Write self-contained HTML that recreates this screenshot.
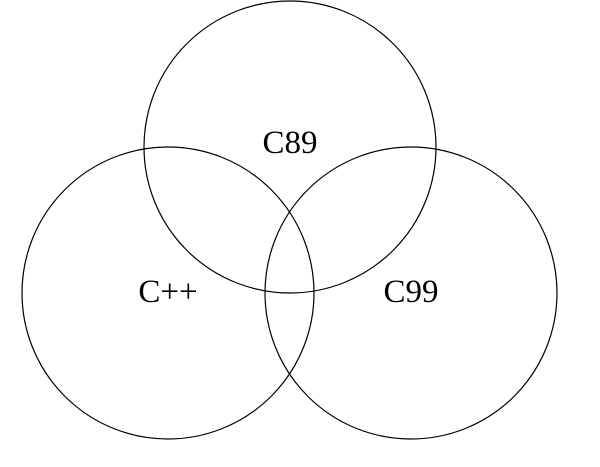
<!DOCTYPE html>
<html><head><style>html,body{margin:0;padding:0;background:#fff;}</style></head>
<body>
<svg width="600" height="462" viewBox="0 0 600 462" xmlns="http://www.w3.org/2000/svg">
<rect width="600" height="462" fill="#fff"/>
<g fill="none" stroke="#000" stroke-width="1.2">
<circle cx="290" cy="147" r="146"/>
<circle cx="168" cy="293" r="146"/>
<circle cx="411" cy="293" r="146"/>
</g>
<g font-family="Liberation Serif, serif" font-size="33" text-anchor="middle" fill="#000">
<text x="290" y="153">C89</text>
<text x="168" y="302">C++</text>
<text x="411" y="302">C99</text>
</g>
</svg>
</body></html>
